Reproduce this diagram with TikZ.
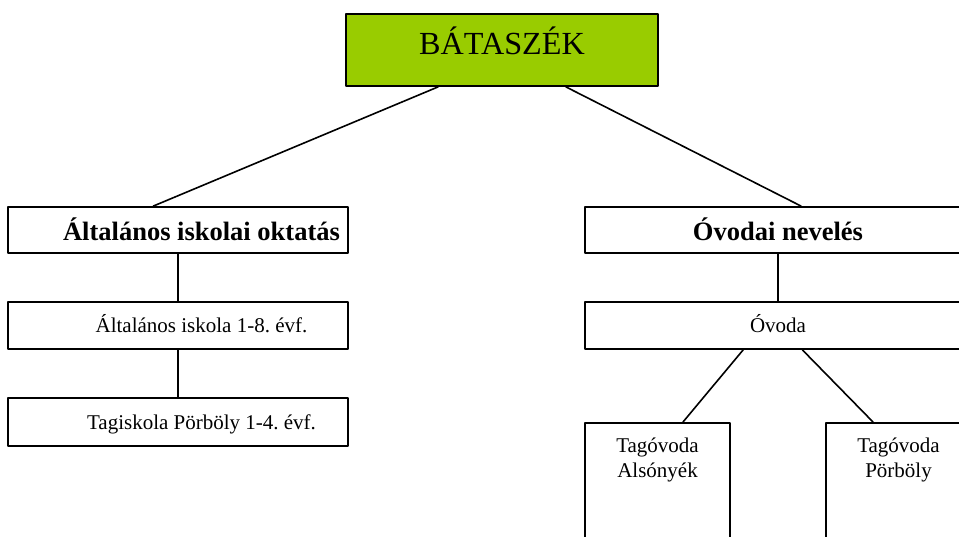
\documentclass[tikz,border=0pt]{standalone}
\usepackage{fontspec}
\setmainfont{Liberation Serif}
\frenchspacing
\definecolor{zold}{HTML}{99CC00}
\begin{document}
\begin{tikzpicture}[x=1pt, y=-1pt, line join=round, line cap=round,
	doboz/.style={draw, line width=1.8pt, rectangle, inner sep=0pt},
	fej/.style={doboz, minimum width=340, minimum height=46, font=\fontsize{26.5}{32}\selectfont\bfseries, text height=21pt, text depth=0pt},
	sor/.style={doboz, minimum width=340, minimum height=47, font=\fontsize{21}{25}\selectfont, text height=15pt, text depth=0pt},
	jobbra/.style={execute at begin node=\hspace*{47pt}}, % szöveg kicsit jobbra
	tagdoboz/.style={doboz, anchor=north, minimum width=145, minimum height=200},
	vonal/.style={line width=1.6pt}]
	\useasboundingbox (0,0) rectangle (959,537);
	\clip (0,0) rectangle (959,537); % a jobb szélen levágva
	% Bátaszék
	\node[doboz, fill=zold, minimum width=312, minimum height=72, font=\fontsize{32.2}{38}\selectfont, text height=10pt, text depth=0pt] (bat) at (502,50) {BÁTASZÉK};
	% iskola ág
	\node[fej, jobbra] (ala) at (178,230) {Általános iskolai oktatás};
	\node[sor, jobbra] (isk) at (178,325.5) {Általános iskola 1-8. évf.};
	\node[sor, jobbra, minimum height=48] (tag) at (178,422) {Tagiskola Pörböly 1-4. évf.};
	% óvoda ág
	\node[fej, minimum width=386] (ovn) at (778,230) {Óvodai nevelés};
	\node[sor, minimum width=386] (ovo) at (778,325.5) {Óvoda};
	\node[tagdoboz, label={[anchor=north, inner sep=0pt, yshift=-15.5pt, align=center, font=\fontsize{21}{25}\selectfont]north:Tagóvoda\\Alsónyék}] (tga) at (657.5,422) {};
	\node[tagdoboz, label={[anchor=north, inner sep=0pt, yshift=-15.5pt, align=center, font=\fontsize{21}{25}\selectfont]north:Tagóvoda\\Pörböly}] (tgp) at (898.5,422) {};
	% vonalak
	\draw[vonal] (bat.210) -- (ala.136);
	\draw[vonal] (bat.330) -- (ovn.46);
	\draw[vonal] (ala) -- (isk);
	\draw[vonal] (isk) -- (tag);
	\draw[vonal] (ovn) -- (ovo);
	\draw[vonal] (ovo.215.5) -- ([xshift=25.5pt]tga.north);
	\draw[vonal] (ovo.315.6) -- ([xshift=-25.5pt]tgp.north);
\end{tikzpicture}
\end{document}
